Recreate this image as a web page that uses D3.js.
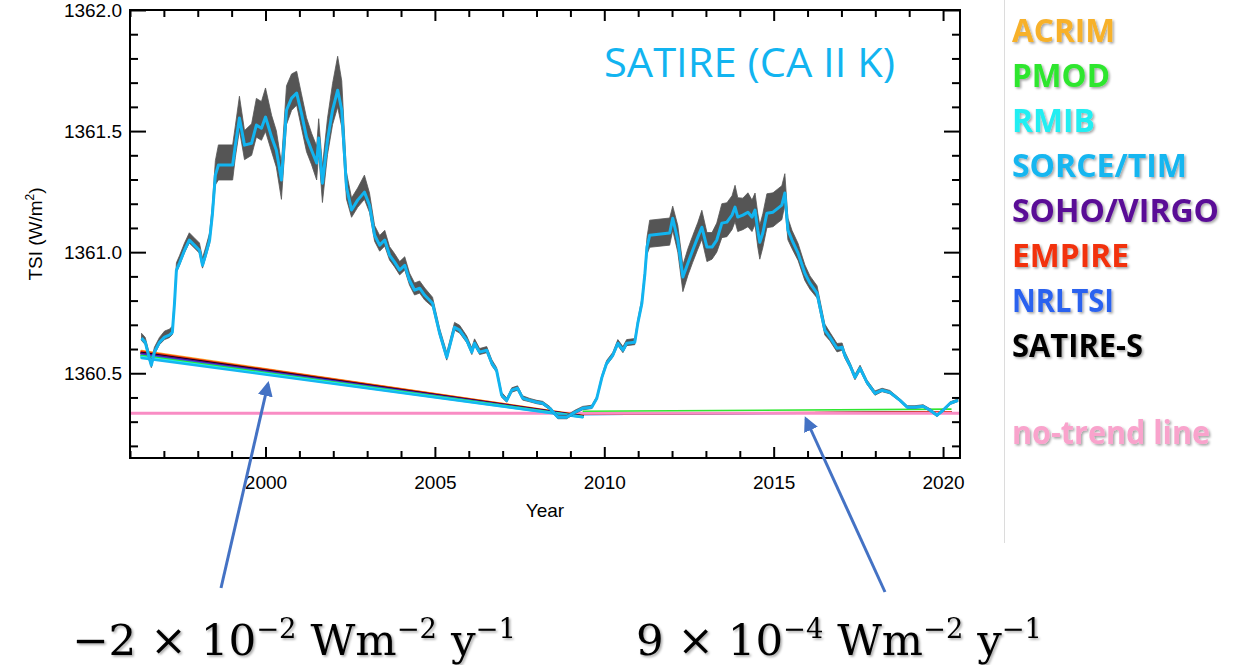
<!DOCTYPE html>
<html>
<head>
<meta charset="utf-8">
<script src="https://cdn.jsdelivr.net/npm/d3@7"></script>
<style>
  html, body { margin: 0; padding: 0; background: #fff; }
  svg { display: block; }
</style>
</head>
<body>
<svg id="chart" width="1243" height="665"></svg>
<script>
// ---- SATIRE (Ca II K) TSI reconstruction, 1996–2020 ----
const years = [
  1996.34,1996.45,1996.57,1996.63,1996.72,1996.87,1997.02,1997.16,1997.25,1997.31,
  1997.37,1997.46,1997.61,1997.75,1997.90,1998.05,1998.14,1998.23,1998.35,1998.43,
  1998.52,1998.61,1999.03,1999.11,1999.23,1999.38,1999.59,1999.73,1999.88,2000.00,
  2000.18,2000.32,2000.47,2000.62,2000.77,2000.92,2001.06,2001.21,2001.36,2001.51,
  2001.57,2001.68,2001.83,2001.98,2002.13,2002.25,2002.39,2002.54,2002.72,2002.92,
  2003.07,2003.22,2003.37,2003.52,2003.66,2003.81,2003.96,2004.11,2004.25,2004.40,
  2004.55,2004.70,2004.93,2005.14,2005.35,2005.58,2005.73,2005.94,2006.09,2006.17,
  2006.32,2006.53,2006.68,2006.82,2006.97,2007.12,2007.27,2007.44,2007.59,2007.80,
  2008.01,2008.18,2008.39,2008.63,2008.89,2009.13,2009.36,2009.63,2009.78,2009.93,
  2010.07,2010.25,2010.40,2010.55,2010.66,2010.90,2010.99,2011.11,2011.20,2011.26,
  2011.34,2011.93,2012.02,2012.17,2012.32,2012.47,2012.61,2012.76,2012.88,2013.03,
  2013.18,2013.32,2013.47,2013.62,2013.77,2013.86,2013.94,2014.09,2014.24,2014.36,
  2014.45,2014.53,2014.59,2014.68,2014.80,2014.98,2015.13,2015.24,2015.33,2015.42,
  2015.54,2015.72,2015.92,2016.07,2016.28,2016.51,2016.66,2016.87,2017.02,2017.10,
  2017.25,2017.40,2017.55,2017.75,2017.99,2018.20,2018.43,2018.73,2018.94,2019.17,
  2019.41,2019.62,2019.82,2020.00,2020.21,2020.44
];
const tsi = [
  1360.645,1360.628,1360.562,1360.533,1360.587,1360.628,1360.649,1360.657,1360.669,1360.781,
  1360.926,1360.955,1361.008,1361.050,1361.029,1361.008,1360.946,1360.988,1361.050,1361.153,
  1361.318,1361.360,1361.360,1361.442,1361.554,1361.442,1361.450,1361.525,1361.512,1361.558,
  1361.475,1361.421,1361.298,1361.587,1361.636,1361.657,1361.574,1361.475,1361.421,1361.368,
  1361.471,1361.285,1361.463,1361.587,1361.669,1361.587,1361.269,1361.174,1361.215,1361.248,
  1361.194,1361.070,1361.029,1361.050,1360.988,1360.959,1360.926,1360.946,1360.884,1360.843,
  1360.851,1360.822,1360.789,1360.665,1360.566,1360.690,1360.678,1360.636,1360.587,1360.624,
  1360.587,1360.595,1360.541,1360.512,1360.409,1360.388,1360.430,1360.438,1360.397,1360.388,
  1360.380,1360.376,1360.355,1360.318,1360.318,1360.339,1360.355,1360.360,1360.397,1360.483,
  1360.541,1360.574,1360.624,1360.595,1360.624,1360.628,1360.707,1360.789,1360.913,1361.021,
  1361.070,1361.079,1361.140,1361.050,1360.897,1360.955,1361.008,1361.062,1361.103,1361.021,
  1361.021,1361.050,1361.120,1361.124,1361.153,1361.186,1361.145,1361.153,1361.165,1361.145,
  1361.174,1361.091,1361.041,1361.079,1361.161,1361.165,1361.182,1361.194,1361.244,1361.091,
  1361.050,1360.996,1360.913,1360.872,1360.831,1360.678,1360.649,1360.603,1360.607,1360.574,
  1360.533,1360.483,1360.521,1360.463,1360.417,1360.430,1360.421,1360.388,1360.360,1360.360,
  1360.364,1360.347,1360.326,1360.347,1360.376,1360.388
];
// spread of the reconstruction ensemble above / below the central curve (W/m²)
const bandUp = [
  .02,.02,.02,.02,.02,.02,.025,.025,.025,.025,
  .03,.03,.03,.03,.03,.03,.03,.03,.03,.04,
  .06,.083,.083,.08,.09,.06,.08,.11,.11,.12,
  .09,.08,.07,.10,.10,.09,.08,.08,.07,.07,
  .08,.07,.09,.11,.14,.12,.06,.05,.05,.07,
  .05,.04,.04,.04,.035,.035,.035,.035,.03,.03,
  .03,.03,.025,.02,.02,.02,.02,.018,.018,.018,
  .015,.015,.015,.012,.012,.01,.01,.01,.01,.008,
  .008,.008,.008,.008,.008,.008,.008,.008,.008,.01,
  .012,.012,.015,.015,.015,.015,.015,.02,.02,.04,
  .062,.062,.05,.06,.05,.06,.06,.06,.07,.06,
  .06,.07,.08,.08,.08,.09,.08,.07,.08,.07,
  .07,.07,.07,.08,.08,.08,.08,.08,.08,.05,
  .04,.04,.035,.03,.03,.025,.02,.02,.018,.015,
  .012,.012,.012,.01,.01,.008,.008,.006,.006,.006,
  .006,.006,.006,.006,.006,.006
];
const bandDown = [
  .01,.01,.01,.01,.01,.01,.01,.01,.01,.01,
  .01,.01,.01,.012,.012,.012,.012,.012,.015,.02,
  .04,.062,.062,.05,.05,.06,.05,.05,.05,.06,
  .06,.07,.08,.06,.05,.05,.06,.06,.06,.07,
  .06,.08,.06,.06,.07,.07,.05,.03,.03,.03,
  .03,.025,.025,.025,.02,.02,.02,.02,.02,.02,
  .02,.02,.015,.012,.012,.012,.012,.01,.01,.01,
  .01,.01,.01,.008,.008,.008,.008,.008,.008,.006,
  .006,.006,.006,.006,.006,.006,.006,.006,.006,.008,
  .008,.008,.01,.01,.01,.01,.01,.012,.015,.03,
  .05,.05,.05,.05,.06,.05,.05,.05,.05,.06,
  .05,.05,.06,.06,.06,.06,.06,.06,.06,.06,
  .06,.07,.07,.06,.06,.06,.06,.06,.05,.04,
  .035,.03,.03,.025,.02,.02,.015,.015,.012,.012,
  .01,.01,.01,.008,.008,.006,.006,.005,.005,.005,
  .005,.005,.005,.005,.005,.005
];

// ---- linear trends of each TSI composite / model ----
const seriesNames  = ["ACRIM","PMOD","RMIB","SORCE/TIM","SOHO/VIRGO","EMPIRE","NRLTSI","SATIRE-S"];
const seriesColors = ["#f7b12c","#2fe62f","#22eef2","#16b6f0","#5a0c96","#f2300e","#2b62ef","#000000"];
// declining cycle (1996 – 2009 minimum)
const trendAYears = [1996.34, 2009.36];
const trendAStart = [1360.592,1360.571,1360.567,1360.563,1360.581,1360.589,1360.575,1360.584];
const trendAEnd   = [1360.325,1360.320,1360.319,1360.318,1360.322,1360.324,1360.321,1360.323];
// minimum-to-minimum (2009 – 2020)
const trendBYears = [2009.36, 2020.25];
const trendBStart = [1360.331,1360.343,1360.331,1360.330,1360.331,1360.332,1360.330,1360.331];
const trendBEnd   = [1360.340,1360.352,1360.340,1360.339,1360.340,1360.341,1360.339,1360.340];
const noTrendValue = 1360.335;

// axis ticks
const xMajor = [2000, 2005, 2010, 2015, 2020];
const xMinor = d3.range(1996, 2021);
const yMajor = [1360.5, 1361.0, 1361.5, 1362.0];
const yMinor = d3.range(1360.2, 1362.01, 0.1).map(v => +v.toFixed(1));

const curveColor = "#12b4f0";
const bandColor  = "#555555";
const noTrendColor = "#f98cc4";
const arrowColor = "#4472c4";

// ---- layout ----
const svg = d3.select("#chart");
const plot = { left: 130, right: 960, top: 10, bottom: 458 };

const x = d3.scaleLinear().domain([1996.0, 2020.5]).range([plot.left, plot.right]);
const y = d3.scaleLinear().domain([1360.15, 1362.0]).range([plot.bottom, plot.top]);

const defs = svg.append("defs");
defs.append("filter").attr("id", "softShadow")
  .attr("x", "-10%").attr("y", "-20%").attr("width", "130%").attr("height", "150%")
  .append("feDropShadow")
  .attr("dx", 1.6).attr("dy", 1.6).attr("stdDeviation", 1.1)
  .attr("flood-color", "#000").attr("flood-opacity", 0.35);
defs.append("marker").attr("id", "arrowHead")
  .attr("viewBox", "0 0 10 10").attr("refX", 8).attr("refY", 5)
  .attr("markerWidth", 5).attr("markerHeight", 5).attr("markerUnits", "strokeWidth")
  .attr("orient", "auto")
  .append("path").attr("d", "M0,0 L10,5 L0,10 Z").attr("fill", arrowColor);

// ---- trend lines (drawn beneath the curve) ----
const lineGen = d3.line().x(d => x(d[0])).y(d => y(d[1]));
const idx = d3.range(seriesNames.length);

const gTrendB = svg.append("g");
idx.slice().sort((a, b) => trendBEnd[a] - trendBEnd[b]).forEach(i => {
  if (seriesNames[i] === "PMOD") return;
  gTrendB.append("path")
    .attr("d", lineGen([[trendBYears[0], trendBStart[i]], [trendBYears[1], trendBEnd[i]]]))
    .attr("stroke", seriesColors[i]).attr("stroke-width", 1.6).attr("fill", "none");
});

svg.append("path")
  .attr("d", lineGen([[1996.0, noTrendValue], [2020.5, noTrendValue]]))
  .attr("stroke", noTrendColor).attr("stroke-width", 3).attr("fill", "none");

idx.filter(i => seriesNames[i] === "PMOD").forEach(i => {
  svg.append("path")
    .attr("d", lineGen([[trendBYears[0], trendBStart[i]], [trendBYears[1], trendBEnd[i]]]))
    .attr("stroke", seriesColors[i]).attr("stroke-width", 1.6).attr("fill", "none");
});

const gTrendA = svg.append("g");
idx.slice().sort((a, b) => trendAStart[b] - trendAStart[a]).forEach(i => {
  gTrendA.append("path")
    .attr("d", lineGen([[trendAYears[0], trendAStart[i]], [trendAYears[1], trendAEnd[i]]]))
    .attr("stroke", seriesColors[i]).attr("stroke-width", 2.4)
    .attr("stroke-linecap", "round").attr("fill", "none");
});

// ---- uncertainty band and reconstruction ----
const rows = years.map((t, i) => ({ t, v: tsi[i], hi: tsi[i] + bandUp[i], lo: tsi[i] - bandDown[i] }));

svg.append("path")
  .datum(rows)
  .attr("d", d3.area().x(d => x(d.t)).y0(d => y(d.lo)).y1(d => y(d.hi)))
  .attr("fill", bandColor).attr("stroke", bandColor).attr("stroke-width", 0.8);

svg.append("path")
  .datum(rows)
  .attr("d", d3.line().x(d => x(d.t)).y(d => y(d.v)))
  .attr("fill", "none").attr("stroke", curveColor).attr("stroke-width", 3)
  .attr("stroke-linejoin", "round");

// ---- axes ----
const tickFont = "'Liberation Sans', Arial, Helvetica, sans-serif";

function styleAxis(g) {
  g.select(".domain").remove();
  g.selectAll("line").attr("stroke", "#000").attr("stroke-width", 2);
  g.selectAll("text").attr("font-family", tickFont).attr("font-size", 19).attr("fill", "#000");
}

svg.append("g").attr("transform", `translate(0,${plot.bottom})`)
  .call(d3.axisBottom(x).tickValues(xMinor.filter(v => !xMajor.includes(v))).tickSize(-7).tickFormat(""))
  .call(styleAxis);
svg.append("g").attr("transform", `translate(0,${plot.bottom})`)
  .call(d3.axisBottom(x).tickValues(xMajor).tickSize(-11).tickPadding(18).tickFormat(d3.format("d")))
  .call(styleAxis);
svg.append("g").attr("transform", `translate(0,${plot.top})`)
  .call(d3.axisTop(x).tickValues(xMinor.filter(v => !xMajor.includes(v))).tickSize(-7).tickFormat(""))
  .call(styleAxis);
svg.append("g").attr("transform", `translate(0,${plot.top})`)
  .call(d3.axisTop(x).tickValues(xMajor).tickSize(-11).tickFormat(""))
  .call(styleAxis);

const yMinorOnly = yMinor.filter(v => !yMajor.some(m => Math.abs(m - v) < 1e-6));
svg.append("g").attr("transform", `translate(${plot.left},0)`)
  .call(d3.axisLeft(y).tickValues(yMinorOnly).tickSize(-8).tickFormat(""))
  .call(styleAxis);
svg.append("g").attr("transform", `translate(${plot.left},0)`)
  .call(d3.axisLeft(y).tickValues(yMajor).tickSize(-16).tickPadding(8).tickFormat(d3.format(".1f")))
  .call(styleAxis);
svg.append("g").attr("transform", `translate(${plot.right},0)`)
  .call(d3.axisRight(y).tickValues(yMinorOnly).tickSize(-8).tickFormat(""))
  .call(styleAxis);
svg.append("g").attr("transform", `translate(${plot.right},0)`)
  .call(d3.axisRight(y).tickValues(yMajor).tickSize(-16).tickFormat(""))
  .call(styleAxis);

svg.append("rect")
  .attr("x", plot.left).attr("y", plot.top)
  .attr("width", plot.right - plot.left).attr("height", plot.bottom - plot.top)
  .attr("fill", "none").attr("stroke", "#000").attr("stroke-width", 2);

svg.append("text")
  .attr("x", (plot.left + plot.right) / 2).attr("y", 517)
  .attr("text-anchor", "middle").attr("font-family", tickFont).attr("font-size", 19)
  .text("Year");

const yl = svg.append("text")
  .attr("transform", `translate(42,${(plot.top + plot.bottom) / 2}) rotate(-90)`)
  .attr("text-anchor", "middle").attr("font-family", tickFont).attr("font-size", 19);
yl.append("tspan").text("TSI (W/m");
yl.append("tspan").attr("font-size", 12).attr("dy", -8).text("2");
yl.append("tspan").attr("dy", 8).text(")");

// ---- panel title ----
svg.append("text")
  .attr("x", 604).attr("y", 77)
  .attr("font-family", "'Open Sans', 'Noto Sans', sans-serif").attr("font-size", 40)
  .attr("fill", curveColor)
  .attr("textLength", 291).attr("lengthAdjust", "spacingAndGlyphs")
  .text("SATIRE (CA II K)");

// ---- legend ----
svg.append("line")
  .attr("x1", 1004.5).attr("x2", 1004.5).attr("y1", 0).attr("y2", 543)
  .attr("stroke", "#dcdcdc").attr("stroke-width", 1);

const legendWidths = [103, 98, 83, 175, 207, 117, 102, 131];
const legend = svg.append("g")
  .attr("font-family", "'Open Sans', 'Noto Sans', sans-serif")
  .attr("font-weight", 700).attr("font-size", 32)
  .attr("filter", "url(#softShadow)");
seriesNames.forEach((name, i) => {
  legend.append("text")
    .attr("x", 1012).attr("y", 42 + i * 45)
    .attr("fill", seriesColors[i])
    .attr("textLength", legendWidths[i]).attr("lengthAdjust", "spacingAndGlyphs")
    .text(name);
});
legend.append("text")
  .attr("x", 1012).attr("y", 444)
  .attr("fill", "#f9a3cc")
  .attr("textLength", 198).attr("lengthAdjust", "spacingAndGlyphs")
  .text("no-trend line");

// ---- trend annotations ----
function arrow(x1, y1, x2, y2) {
  svg.append("line")
    .attr("x1", x1).attr("y1", y1).attr("x2", x2).attr("y2", y2)
    .attr("stroke", arrowColor).attr("stroke-width", 3)
    .attr("marker-end", "url(#arrowHead)");
}
arrow(221, 588, 268, 384);
arrow(885, 592, 806, 419);

function rateLabel(x0, width, parts) {
  const t = svg.append("text")
    .attr("x", x0).attr("y", 655)
    .attr("font-family", "'DejaVu Serif', 'Liberation Serif', serif")
    .attr("font-size", 43).attr("fill", "#000")
    .attr("filter", "url(#softShadow)")
    .attr("textLength", width).attr("lengthAdjust", "spacingAndGlyphs");
  let raised = false;
  parts.forEach(([s, sup]) => {
    const sp = t.append("tspan").text(s);
    if (sup && !raised) { sp.attr("font-size", 27).attr("dy", -17); raised = true; }
    else if (!sup && raised) { sp.attr("dy", 17); raised = false; }
    else if (sup) sp.attr("font-size", 27);
  });
}
rateLabel(72, 444, [["\u22122 \u00d7 10", false], ["\u22122", true], [" Wm", false], ["\u22122", true], [" y", false], ["\u22121", true]]);
rateLabel(636, 406, [["9 \u00d7 10", false], ["\u22124", true], [" Wm", false], ["\u22122", true], [" y", false], ["\u22121", true]]);
</script>
</body>
</html>
